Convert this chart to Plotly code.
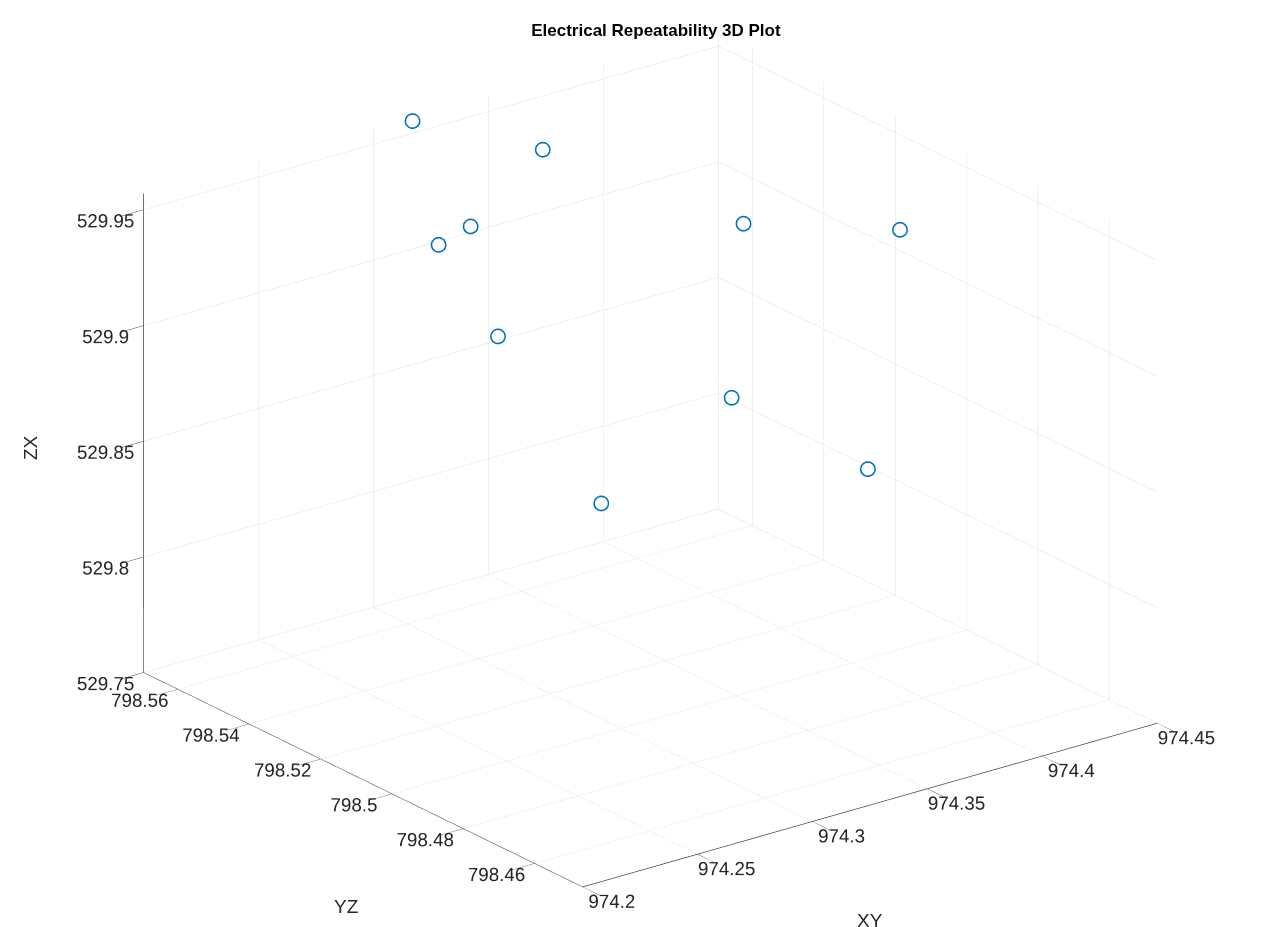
import plotly.graph_objects as go
import math

# Data
xy = [974.316, 974.354, 974.304, 974.290, 974.404, 974.424, 974.277, 974.360, 974.382, 974.266]
yz = [798.5690, 798.557, 798.545, 798.545, 798.533, 798.502, 798.520, 798.508, 798.484, 798.484]
zx = [529.956, 529.942, 529.932, 529.928, 529.914, 529.929, 529.911, 529.870, 529.851, 529.869]

x_ticks = [974.2, 974.25, 974.3, 974.35, 974.4, 974.45]
x_labels = ["974.2", "974.25", "974.3", "974.35", "974.4", "974.45"]
y_ticks = [798.46, 798.48, 798.5, 798.52, 798.54, 798.56]
y_labels = ["798.46", "798.48", "798.5", "798.52", "798.54", "798.56"]
z_ticks = [529.75, 529.8, 529.85, 529.9, 529.95]
z_labels = ["529.75", "529.8", "529.85", "529.9", "529.95"]

x_range = [974.2, 974.45]
y_range = [798.4466, 798.5695]
z_range = [529.75, 529.957]

fig = go.Figure()
fig.add_trace(go.Scatter3d(
    x=xy, y=yz, z=zx, mode="markers",
    marker=dict(symbol="circle-open", size=9, color="#0072BD"),
    showlegend=False,
))

theta = math.radians(21.9)
phi = math.radians(232.63)
k = 1.8
eye = dict(x=k * math.cos(theta) * math.cos(phi),
           y=k * math.cos(theta) * math.sin(phi),
           z=k * math.sin(theta))

s = 1.605
font = "Liberation Sans, Arial, Helvetica, sans-serif"
axis_common = dict(
    showbackground=False, gridcolor="#e0e0e0", gridwidth=1,
    showline=True, linecolor="#444444", linewidth=1.5,
    zeroline=False, showspikes=False, ticks="outside", ticklen=30, tickcolor="#444444",
    tickfont=dict(family=font, size=15, color="#262626"),
    tickangle=0, mirror=False, title=dict(text=""),
)

fig.update_layout(
    width=1263, height=927,
    paper_bgcolor="white",
    margin=dict(l=0, r=0, t=0, b=0),
    title=dict(text="<b>Electrical Repeatability 3D Plot</b>", x=0.513, xanchor="center",
               y=0.976, yanchor="middle", font=dict(family=font, size=17, color="black")),
    font=dict(family=font),
    scene=dict(
        domain=dict(x=[0.0172, 1.0], y=[0.0276, 1.0]),
        xaxis=dict(range=x_range, tickvals=x_ticks, ticktext=x_labels, **axis_common),
        yaxis=dict(range=y_range, tickvals=y_ticks, ticktext=y_labels, **axis_common),
        zaxis=dict(range=z_range, tickvals=z_ticks, ticktext=z_labels, **axis_common),
        aspectmode="manual",
        aspectratio=dict(x=1.0 * s, y=1.0 * s, z=0.714 * s),
        camera=dict(eye=eye, center=dict(x=0, y=0, z=0), up=dict(x=0, y=0, z=1),
                    projection=dict(type="orthographic")),
        bgcolor="white",
    ),
    annotations=[
        dict(text="XY", x=862 / 1263, y=1 - 912 / 927, xref="paper", yref="paper",
             xanchor="center", yanchor="middle",
             showarrow=False, font=dict(family=font, size=19, color="#262626")),
        dict(text="YZ", x=338 / 1263, y=1 - 898 / 927, xref="paper", yref="paper",
             xanchor="center", yanchor="middle",
             showarrow=False, font=dict(family=font, size=19, color="#262626")),
        dict(text="ZX", x=22 / 1263, y=1 - 440 / 927, xref="paper", yref="paper",
             xanchor="center", yanchor="middle",
             showarrow=False, textangle=-90, font=dict(family=font, size=19, color="#262626")),
    ],
)

fig.write_html("out.html")
